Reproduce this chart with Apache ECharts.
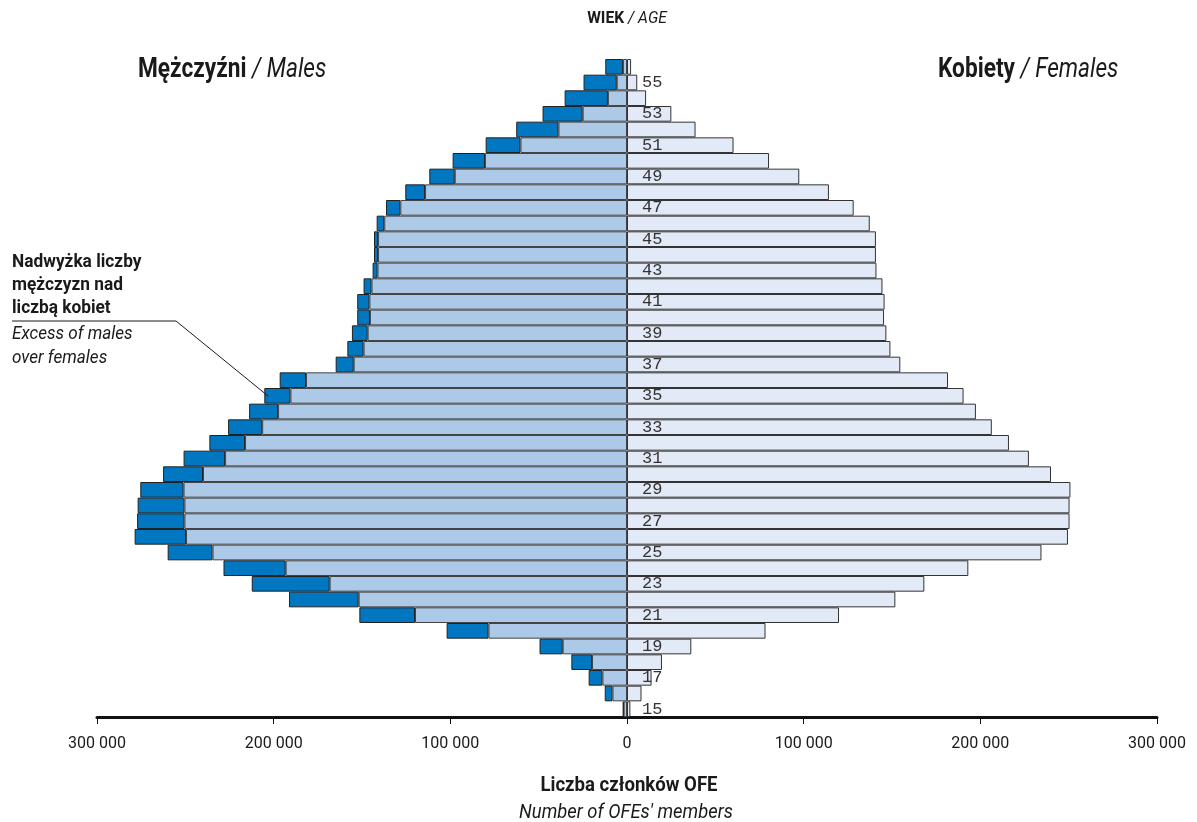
<!DOCTYPE html>
<html>
<head>
<meta charset="utf-8">
<script src="https://cdn.jsdelivr.net/npm/echarts@6/dist/echarts.min.js"></script>
<style>
html,body{margin:0;padding:0;background:#fff;}
#chart{width:1197px;height:822px;}
</style>
</head>
<body>
<div id="chart"></div>
<script>
// Ages (bottom to top)
const ages = [15,16,17,18,19,20,21,22,23,24,25,26,27,28,29,30,31,32,33,34,35,36,37,38,39,40,41,42,43,44,45,46,47,48,49,50,51,52,53,54,55,56];
// Female members by age
const females = [1900,8200,13900,19800,36400,78400,120000,151900,168300,193200,234600,249600,250500,250500,251000,240000,227500,216200,206500,197500,190500,181700,154700,149100,146800,145500,145800,144600,141200,140900,140900,137400,128300,114300,97500,80400,60300,38800,25100,10800,5800,2300];
// Male members by age (total)
const males = [2300,12600,21700,31500,49500,102100,151500,191300,212400,228400,260000,278700,277300,277000,275500,262600,251000,236400,225800,213900,205300,196600,164900,158300,155700,152700,152700,149100,144000,143200,143200,141700,136400,125500,111900,98700,80000,62700,47800,35300,24600,12300];
// Axis ticks
const tickValues = [-300000,-200000,-100000,0,100000,200000,300000];

const font = 'Roboto, "Liberation Sans", sans-serif';

const maleBase = females.map(v => -v);
const maleExcess = males.map((m, i) => -(m - females[i]));

function txt(x, y, sx, style, align) {
  return {type: 'text', x: x, y: y, scaleX: sx, z: 100,
    style: Object.assign({textAlign: align || 'left', textVerticalAlign: 'top', fill: '#1a1a1a', fontFamily: font}, style)};
}

const chart = echarts.init(document.getElementById('chart'), null, {renderer: 'canvas'});
chart.setOption({
  animation: false,
  backgroundColor: '#ffffff',
  grid: {left: 97, right: 40, top: 59, bottom: 105, containLabel: false},
  xAxis: {
    type: 'value',
    min: -300000, max: 300000, interval: 100000,
    axisLine: {show: true, lineStyle: {color: '#111', width: 3}},
    axisTick: {show: true, length: 7, lineStyle: {color: '#111', width: 1}},
    splitLine: {show: false},
    axisLabel: {
      margin: 19,
      fontFamily: font, fontSize: 16, color: '#1a1a1a',
      formatter: v => Math.abs(v).toString().replace(/\B(?=(\d{3})+(?!\d))/g, ' ')
    }
  },
  yAxis: {
    type: 'category',
    data: ages,
    z: 10,
    axisLine: {show: false},
    axisTick: {show: false},
    splitLine: {show: false},
    axisLabel: {
      inside: true,
      margin: 545,
      lineHeight: 20,
      padding: [5, 0, 0, 0],
      interval: (idx, val) => Number(val) % 2 === 1,
      fontFamily: '"Liberation Mono","DejaVu Sans Mono",monospace',
      fontSize: 17, color: '#333'
    }
  },
  series: [
    {
      name: 'Kobiety', type: 'bar', stack: 'f', data: females,
      barCategoryGap: '0%', barGap: '-100%',
      itemStyle: {color: '#e3eaf7', borderColor: '#333', borderWidth: 1}
    },
    {
      name: 'Mężczyźni', type: 'bar', stack: 'm', data: maleBase,
      barCategoryGap: '0%', barGap: '-100%',
      itemStyle: {color: '#adc9e8', borderColor: '#444', borderWidth: 1}
    },
    {
      name: 'Nadwyżka', type: 'bar', stack: 'm', data: maleExcess,
      barCategoryGap: '0%', barGap: '-100%',
      itemStyle: {color: '#0077c0', borderColor: '#222', borderWidth: 1}
    }
  ],
  graphic: [
    txt(627, 10, 0.92, {text: '{b|WIEK}{i| / AGE}', rich: {
      b: {fontFamily: font, fontWeight: 'bold', fontSize: 17, fill: '#1a1a1a'},
      i: {fontFamily: font, fontStyle: 'italic', fontSize: 17, fill: '#1a1a1a'}}}, 'center'),
    txt(138, 57, 0.84, {text: '{b|Mężczyźni}{i| / Males}', rich: {
      b: {fontFamily: font, fontWeight: 'bold', fontSize: 27, fill: '#1a1a1a'},
      i: {fontFamily: font, fontStyle: 'italic', fontSize: 27, fill: '#1a1a1a'}}}),
    txt(938, 57, 0.84, {text: '{b|Kobiety}{i| / Females}', rich: {
      b: {fontFamily: font, fontWeight: 'bold', fontSize: 27, fill: '#1a1a1a'},
      i: {fontFamily: font, fontStyle: 'italic', fontSize: 27, fill: '#1a1a1a'}}}),
    txt(12, 251, 0.91, {text: 'Nadwyżka liczby\nmężczyzn nad\nliczbą kobiet',
      fontWeight: 'bold', fontSize: 19, lineHeight: 23}),
    txt(12, 322, 0.9, {text: 'Excess of males\nover females',
      fontStyle: 'italic', fontSize: 19, lineHeight: 24}),
    {type: 'polyline', z: 100, shape: {points: [[12, 321], [176, 321], [268, 396]]},
      style: {stroke: '#1a1a1a', lineWidth: 1, fill: null}},
    txt(629, 776, 0.93, {text: 'Liczba członków OFE', fontWeight: 'bold', fontSize: 20}, 'center'),
    txt(626, 803, 0.92, {text: "Number of OFEs' members", fontStyle: 'italic', fontSize: 20}, 'center')
  ]
});
</script>
</body>
</html>
